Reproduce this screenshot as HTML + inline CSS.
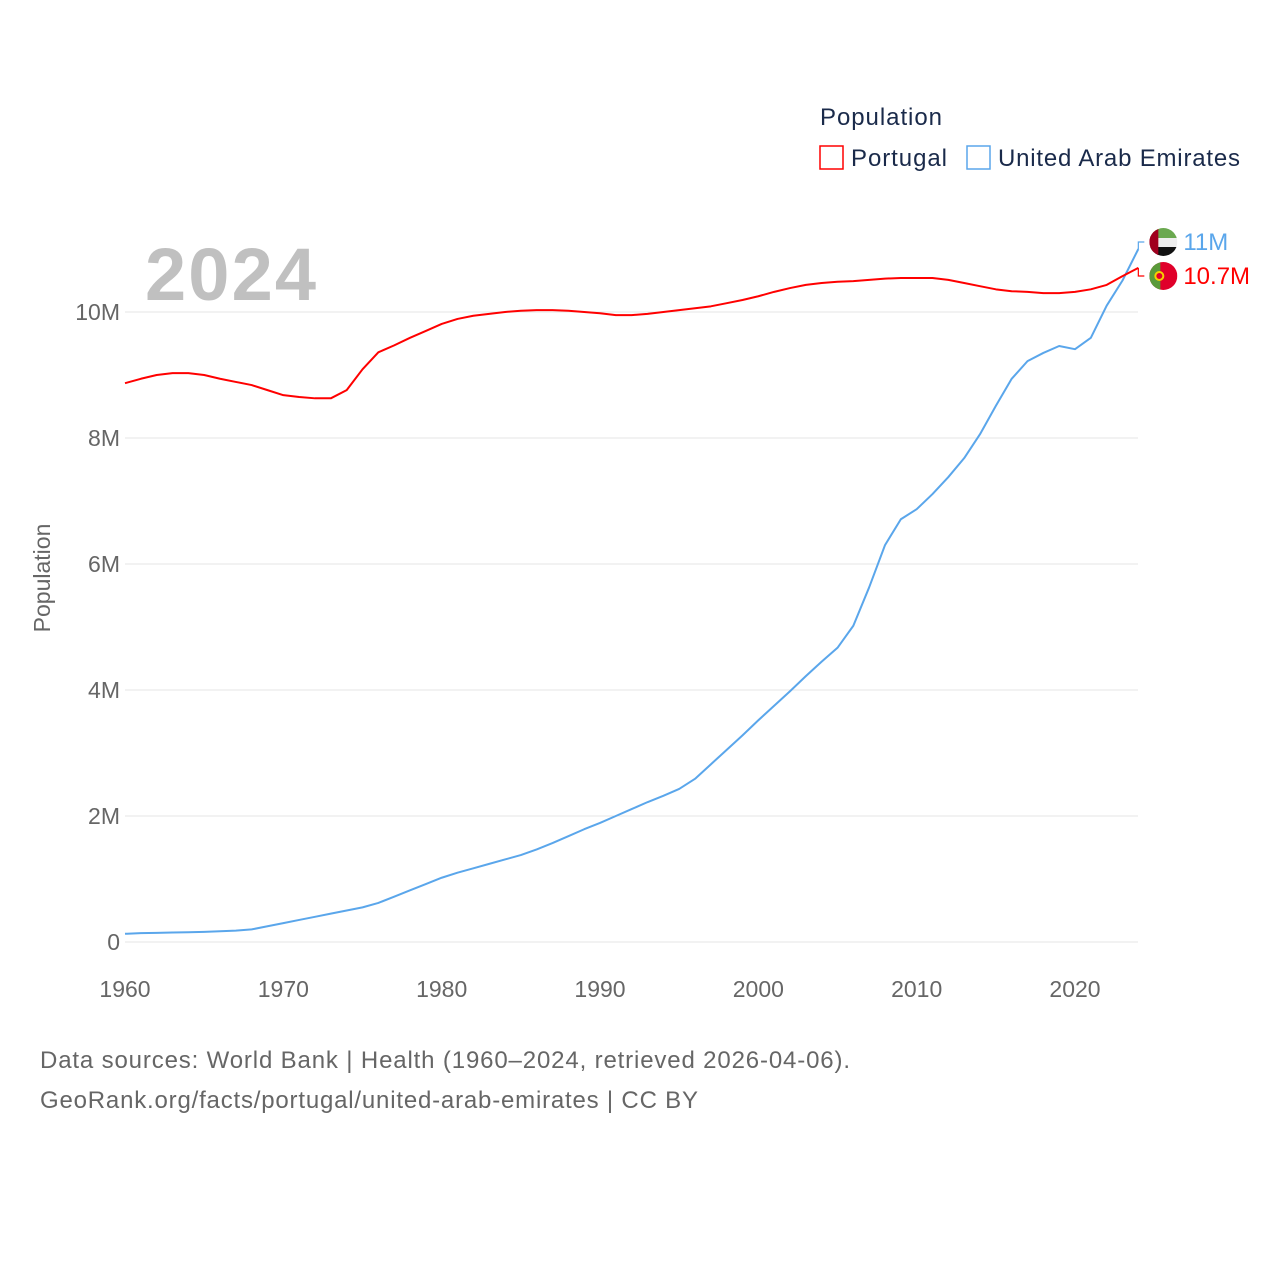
<!DOCTYPE html>
<html><head><meta charset="utf-8">
<style>
body{margin:0;background:#fff;font-family:"Liberation Sans",sans-serif;}
svg text{font-family:"Liberation Sans",sans-serif;}
</style></head>
<body>
<svg id="chart" width="1280" height="1280" xmlns="http://www.w3.org/2000/svg">
<text x="820" y="125" font-size="24" fill="#1a2a4a" textLength="122">Population</text>
<g><rect x="820" y="146" width="23" height="23" fill="none" stroke="#ff0000" stroke-width="1.5"/><text x="851" y="166" font-size="24" fill="#1a2a4a" textLength="96">Portugal</text></g>
<g><rect x="967" y="146" width="23" height="23" fill="none" stroke="#5aa6eb" stroke-width="1.5"/><text x="998" y="166" font-size="24" fill="#1a2a4a" textLength="242">United Arab Emirates</text></g>
<text x="145" y="300" font-size="74" font-weight="bold" fill="#c0c0c0" textLength="171">2024</text>
<text transform="translate(50,578) rotate(-90)" text-anchor="middle" font-size="23" fill="#666">Population</text>
<g id="grid"></g><g id="lines"></g><g id="labels"></g>
<text x="40" y="1068" font-size="24" fill="#666" textLength="810">Data sources: World Bank | Health (1960–2024, retrieved 2026-04-06).</text>
<text x="40" y="1108" font-size="24" fill="#666" textLength="658">GeoRank.org/facts/portugal/united-arab-emirates | CC BY</text>
</svg>
<script>
const years=[];for(let y=1960;y<=2024;y++)years.push(y);
const portugal=[8.87,8.94,9.00,9.03,9.03,9.00,8.94,8.89,8.84,8.76,8.68,8.65,8.63,8.63,8.76,9.09,9.36,9.47,9.59,9.70,9.81,9.89,9.94,9.97,10.0,10.02,10.03,10.03,10.02,10.0,9.98,9.95,9.95,9.97,10.0,10.03,10.06,10.09,10.14,10.19,10.25,10.32,10.38,10.43,10.46,10.48,10.49,10.51,10.53,10.54,10.54,10.54,10.51,10.46,10.41,10.36,10.33,10.32,10.30,10.30,10.32,10.36,10.43,10.57,10.70];
const uae=[0.13,0.14,0.145,0.15,0.155,0.16,0.17,0.18,0.20,0.25,0.30,0.35,0.40,0.45,0.50,0.55,0.62,0.72,0.82,0.92,1.02,1.10,1.17,1.24,1.31,1.38,1.47,1.57,1.68,1.79,1.89,2.00,2.11,2.22,2.32,2.43,2.59,2.82,3.05,3.28,3.52,3.75,3.98,4.22,4.45,4.67,5.02,5.63,6.30,6.71,6.87,7.11,7.38,7.68,8.06,8.51,8.94,9.22,9.35,9.46,9.41,9.59,10.1,10.5,11.0];
const yTicks=[0,2,4,6,8,10];
const yTickLabels=["0","2M","4M","6M","8M","10M"];
const xTicks=[1960,1970,1980,1990,2000,2010,2020];
const X=y=>125+(y-1960)*(1075-125)/60;
const Y=v=>942-v*63;
const NS="http://www.w3.org/2000/svg";
function mk(t,a,p){const e=document.createElementNS(NS,t);for(const k in a)e.setAttribute(k,a[k]);p.appendChild(e);return e;}
const grid=document.getElementById('grid');
yTicks.forEach((v,i)=>{
 const l=mk('line',{x1:125,x2:1138,y1:Y(v),y2:Y(v),stroke:'#e6e6e6','stroke-width':1},grid);
 
 
 const t=mk('text',{x:120,y:Y(v)+8,'text-anchor':'end','font-size':23,fill:'#666'},grid);
 t.textContent=yTickLabels[i];
 
 
});
xTicks.forEach(y=>{
 const t=mk('text',{x:X(y),y:997,'text-anchor':'middle','font-size':23,fill:'#666'},grid);
 t.textContent=y;
 
 
});
const lines=document.getElementById('lines');
function line(arr,color,name,w){
 const p=mk('polyline',{points:arr.map((v,i)=>X(years[i])+','+Y(v)).join(' '),fill:'none',stroke:color,'stroke-width':w,'stroke-linejoin':'round'},lines);
 
 
}
line(uae,'#5aa6eb','uae-line',2);
line(portugal,'#ff0000','portugal-line',2);
const lab=document.getElementById('labels');
const lx=X(2024), uY=Y(uae[uae.length-1]), pY=Y(portugal[portugal.length-1]);
const uLy=Math.min(uY,pY)-7, pLy=uLy+34;
mk('polyline',{points:`${lx},${uY} ${lx},${uLy} ${lx+6},${uLy}`,fill:'none',stroke:'#5aa6eb','stroke-width':1.2},lab);
mk('polyline',{points:`${lx},${pY} ${lx},${pLy} ${lx+6},${pLy}`,fill:'none',stroke:'#ff0000','stroke-width':1.2},lab);
const fu=mk('g',{},lab);


const cu=lx+25;
mk('clipPath',{id:'cu'},fu);mk('circle',{cx:cu,cy:uLy,r:14},document.getElementById('cu'));
const gu=mk('g',{'clip-path':'url(#cu)'},fu);
mk('rect',{x:cu-14,y:uLy-14,width:28,height:10,fill:'#6aa84f'},gu);
mk('rect',{x:cu-14,y:uLy-4,width:28,height:9,fill:'#eee'},gu);
mk('rect',{x:cu-14,y:uLy+5,width:28,height:10,fill:'#111'},gu);
mk('rect',{x:cu-14,y:uLy-14,width:9,height:28,fill:'#a0001e'},gu);
const fp=mk('g',{},lab);


mk('clipPath',{id:'cp'},fp);mk('circle',{cx:cu,cy:pLy,r:14},document.getElementById('cp'));
const gp=mk('g',{'clip-path':'url(#cp)'},fp);
mk('rect',{x:cu-14,y:pLy-14,width:28,height:28,fill:'#e0002a'},gp);
mk('rect',{x:cu-14,y:pLy-14,width:11,height:28,fill:'#5a9a3a'},gp);
mk('circle',{cx:cu-4,cy:pLy,r:4,fill:'#e0002a',stroke:'#f5d000','stroke-width':2},gp);
const tu=mk('text',{x:cu+20,y:uLy+8,'font-size':24,fill:'#5aa6eb'},lab);tu.textContent='11M';


const tp=mk('text',{x:cu+20,y:pLy+8,'font-size':24,fill:'#ff0000'},lab);tp.textContent='10.7M';


</script>
</body></html>
